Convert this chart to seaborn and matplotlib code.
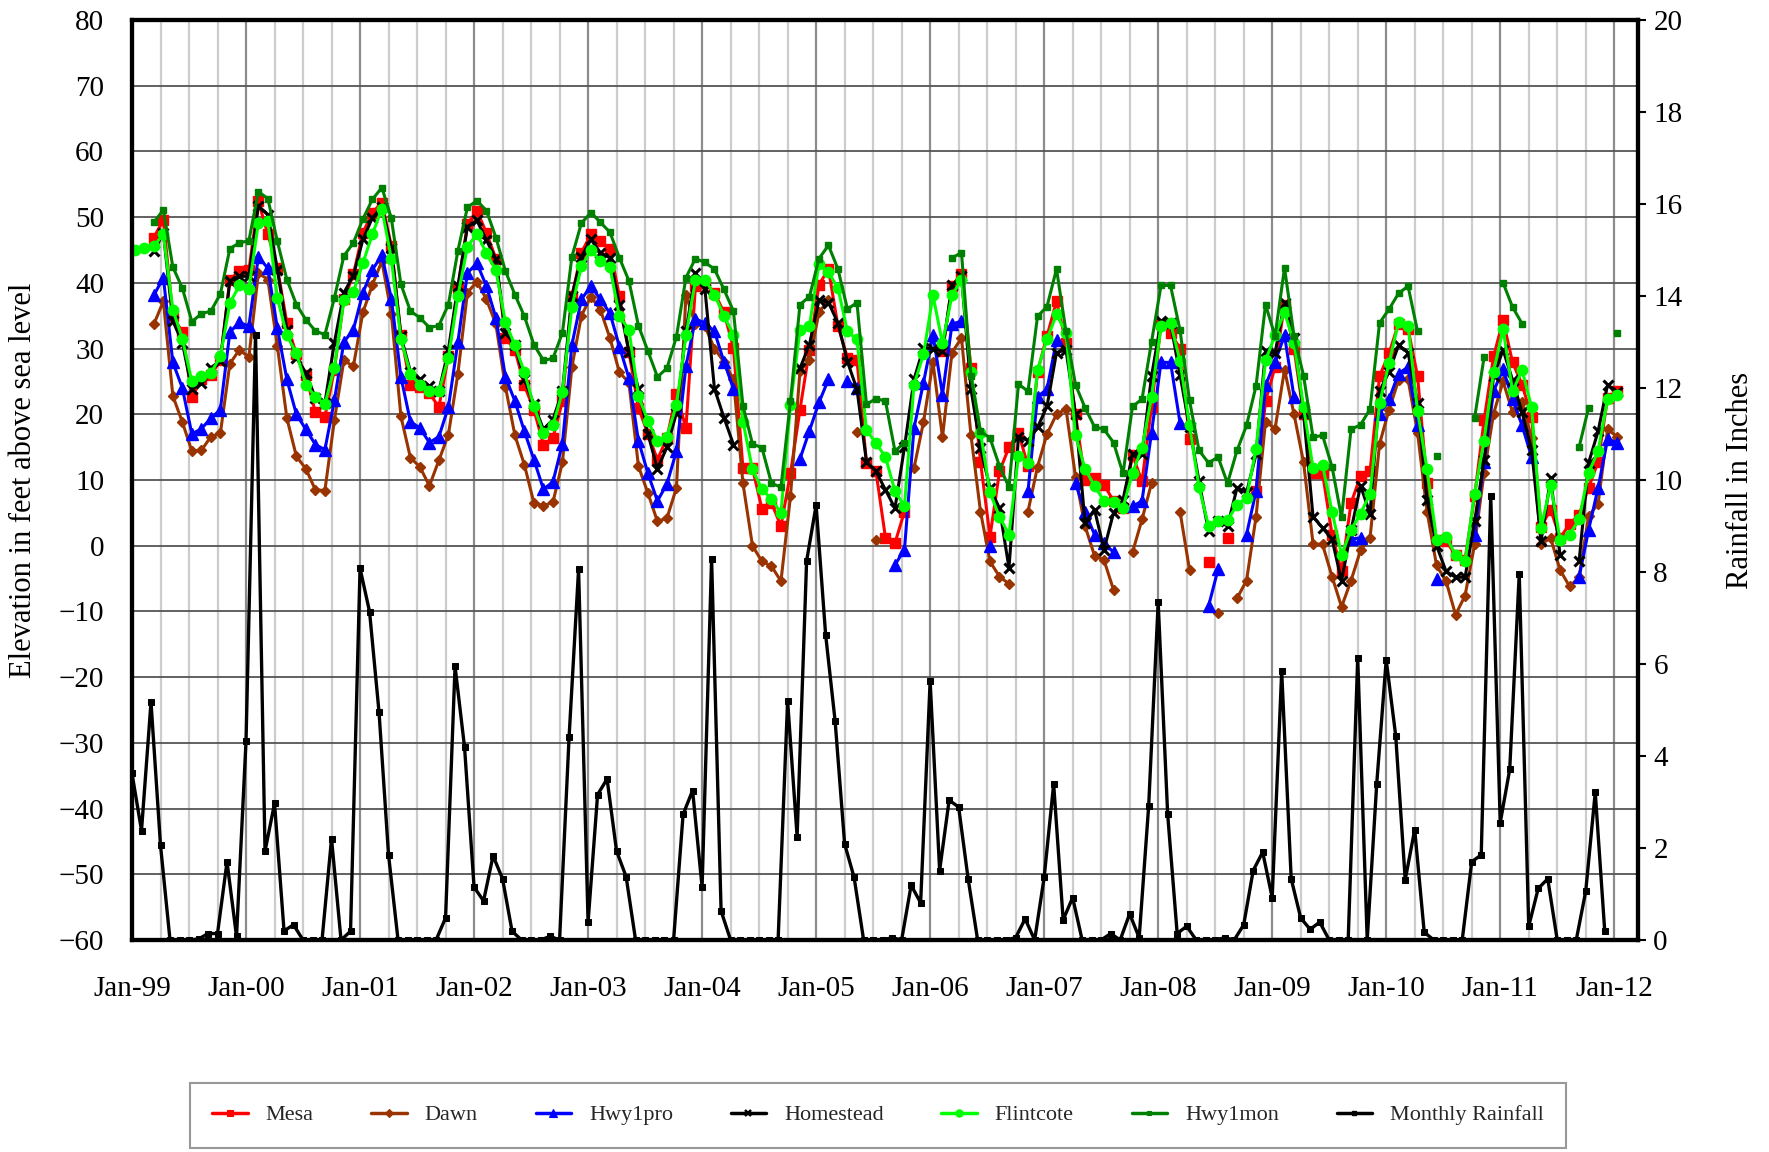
import numpy as np
import pandas as pd
import matplotlib
matplotlib.use("Agg")
import matplotlib.pyplot as plt
from matplotlib.lines import Line2D
import seaborn as sns

nan = np.nan

# month index: 0 = Jan-99 ... 156 = Jan-12
months = np.arange(157)
year_labels = ["Jan-99", "Jan-00", "Jan-01", "Jan-02", "Jan-03", "Jan-04", "Jan-05",
               "Jan-06", "Jan-07", "Jan-08", "Jan-09", "Jan-10", "Jan-11", "Jan-12"]

# well levels, feet above sea level (one row per year)
mesa = [
    nan, nan, 46.9, 49.6, 34.9, 32.5, 22.6, 25.3, 26.0, 28.2, 40.5, 41.8,
    41.9, 52.4, 47.4, 42.3, 33.9, 29.1, 26.0, 20.3, 19.6, 26.8, 37.5, 41.3,
    47.6, 50.7, 52.2, 45.6, 32.1, 24.5, 24.2, 23.2, 21.1, 28.8, 39.2, 48.9,
    51.0, 47.6, 43.7, 31.6, 29.8, 24.4, 20.7, 15.4, 16.4, 22.0, 38.0, 44.6,
    47.4, 46.3, 45.1, 38.0, 29.5, 21.0, 17.0, 13.1, 16.4, 23.1, 17.9, 39.5,
    40.0, 38.5, 35.5, 30.1, 11.8, 11.8, 5.6, 6.5, 3.0, 11.0, 20.7, 29.8,
    39.7, 42.1, 33.4, 28.6, 28.3, 12.6, 11.3, 1.2, 0.4, 5.2, nan, nan,
    nan, 29.6, 39.5, 41.4, 27.0, 12.8, 1.4, 11.3, 15.0, 17.2, 12.1, 26.5,
    31.9, 37.2, 30.9, 20.0, 10.0, 10.3, 9.3, 6.8, 5.7, 13.8, 9.8, 21.1,
    33.7, 32.4, 30.0, 16.2, nan, -2.5, nan, 1.2, nan, nan, 8.3, 22.0,
    27.2, 36.7, 30.0, 20.0, 11.0, 11.0, 1.7, -3.9, 6.5, 10.6, 11.3, 25.8,
    29.3, 33.8, 33.0, 25.8, 9.5, 0.8, 0.7, -1.4, -2.1, 7.5, 19.1, 28.8,
    34.3, 27.9, 24.5, 19.6, 2.9, 5.5, 1.2, 3.3, 4.7, 8.8, 12.8, 22.5,
    23.5]

dawn = [
    nan, nan, 33.7, 37.2, 22.8, 18.8, 14.4, 14.5, 16.6, 17.1, 27.7, 29.8,
    28.7, 41.5, 40.5, 30.4, 19.4, 13.6, 11.7, 8.5, 8.4, 19.1, 28.2, 27.3,
    35.5, 39.7, 43.3, 35.3, 19.7, 13.4, 12.0, 9.1, 13.0, 16.9, 26.2, 38.5,
    40.2, 37.5, 33.7, 24.2, 16.8, 12.3, 6.5, 6.1, 6.6, 12.7, 27.2, 35.0,
    37.9, 35.9, 31.6, 26.4, 24.8, 12.1, 8.0, 3.7, 4.2, 8.8, 38.2, 33.7,
    33.4, 30.0, 28.0, 25.3, 9.5, 0.0, -2.4, -3.1, -5.4, 7.5, 26.6, 28.2,
    35.5, 37.4, nan, nan, 17.3, nan, 0.9, nan, nan, nan, 11.8, 18.8,
    27.9, 16.5, 29.4, 31.6, 16.8, 5.2, -2.4, -4.7, -5.8, nan, 5.2, 12.0,
    17.0, 20.0, 20.8, 10.5, 3.0, -1.5, -2.2, -6.7, nan, -1.0, 4.0, 9.5,
    nan, nan, 5.2, -3.7, nan, nan, -10.3, nan, -8.0, -5.3, 4.4, 18.9,
    17.8, 26.8, 20.0, 12.7, 0.3, 0.2, -4.7, -9.3, -5.3, -0.7, 1.2, 15.5,
    20.7, 25.2, 25.3, 17.2, 5.2, -3.0, -5.4, -10.5, -7.6, 0.2, 11.1, 20.1,
    25.0, 20.3, 21.8, 16.4, 0.2, 1.2, -3.7, -6.2, -4.8, 4.5, 6.4, 17.7,
    16.6]

hwy1pro = [
    nan, nan, 38.1, 40.8, 27.9, 24.0, 17.0, 17.8, 19.4, 20.7, 32.5, 34.0,
    33.4, 44.0, 42.2, 33.1, 25.3, 20.0, 17.7, 15.4, 14.6, 22.1, 31.0, 32.9,
    38.5, 42.0, 44.2, 37.6, 25.7, 18.9, 17.9, 15.7, 16.6, 21.1, 31.0, 41.5,
    43.0, 39.5, 34.7, 25.7, 22.0, 17.4, 13.1, 8.6, 9.7, 15.5, 30.6, 37.5,
    39.5, 37.5, 35.4, 30.3, 25.5, 16.0, 11.0, 6.8, 9.4, 14.4, 27.3, 34.5,
    33.9, 32.6, 28.0, 23.9, nan, nan, nan, nan, nan, nan, 13.2, 17.5,
    21.8, 25.3, nan, 25.0, 24.0, nan, nan, nan, -2.9, -0.6, 17.9, 24.8,
    32.1, 23.0, 33.7, 34.2, nan, nan, -0.1, nan, nan, nan, 8.3, 22.7,
    23.8, 31.3, nan, 9.5, 5.2, 1.7, 0.4, -1.0, nan, 6.0, 6.8, 17.2,
    27.9, 27.9, 18.7, nan, nan, -9.2, -3.6, nan, nan, 1.7, 8.3, 24.4,
    28.0, 32.0, 22.6, nan, nan, nan, nan, nan, 1.0, 1.2, nan, 20.0,
    22.3, 26.2, 27.2, 18.4, nan, -5.1, nan, nan, nan, 1.7, 12.8, 23.5,
    26.9, 22.3, 18.3, 13.5, nan, nan, nan, nan, -4.8, 2.4, 8.8, 16.2,
    15.7]

homestead = [
    nan, nan, 44.8, 47.6, 34.2, 30.9, 23.8, 24.8, 27.1, 28.1, 40.3, 41.0,
    41.0, 51.7, 50.4, 42.0, 32.9, 28.6, 26.3, 22.5, 21.7, 30.9, 38.5, 41.1,
    46.6, 49.9, 51.5, 45.3, 31.9, 26.5, 25.3, 24.3, 23.5, 29.8, 39.5, 48.5,
    49.5, 46.5, 43.6, 32.4, 30.6, 25.3, 21.5, 17.7, 19.2, 23.5, 38.0, 44.0,
    46.6, 44.6, 43.8, 36.7, 29.5, 23.9, 17.0, 11.7, 15.0, 20.2, 32.6, 41.5,
    39.0, 23.9, 19.5, 15.4, nan, nan, nan, nan, nan, nan, 27.0, 30.6,
    37.4, 37.0, 33.9, 28.0, 23.8, 12.8, 11.3, 8.5, 5.7, 15.0, 25.3, 30.1,
    30.0, 29.6, 39.7, 41.0, 23.8, 14.9, 8.8, 5.7, -3.4, 16.6, 16.0, 18.0,
    21.2, 29.4, 29.8, 20.0, 3.5, 5.5, -0.6, 5.0, 7.0, 13.9, 13.9, 25.8,
    34.2, 33.9, 26.0, 18.0, 9.8, 2.2, 3.7, 3.0, 8.8, 8.1, 13.9, 29.6,
    29.3, 37.0, 31.6, 20.2, 4.4, 2.7, 1.0, -5.4, 2.4, 9.1, 4.9, 23.5,
    26.5, 30.5, 29.4, 21.7, 6.9, 0.0, -3.9, -4.8, -4.8, 3.7, 13.0, 25.8,
    29.8, 25.2, 20.3, 14.6, 0.7, 10.3, -1.4, nan, -2.4, 12.6, 17.4, 24.5,
    23.4]

flintcote = [
    45.0, 45.3, 45.6, 47.4, 35.9, 31.5, 25.0, 25.8, 26.3, 28.8, 36.9, 39.6,
    39.1, 49.1, 49.4, 37.7, 32.0, 29.3, 24.5, 22.7, 21.5, 27.1, 37.4, 38.6,
    43.0, 47.4, 51.3, 43.6, 31.4, 26.2, 24.4, 23.6, 23.5, 28.6, 38.0, 45.5,
    47.5, 44.5, 41.9, 34.0, 30.5, 26.4, 21.2, 17.2, 18.3, 23.4, 36.4, 42.5,
    45.0, 43.3, 42.4, 34.9, 32.9, 22.8, 19.0, 15.9, 16.6, 21.4, 32.0, 40.4,
    40.5, 38.2, 35.0, 32.1, 18.9, 11.6, 8.6, 7.1, 5.0, 21.4, 32.8, 33.4,
    42.9, 41.6, 39.2, 32.6, 31.4, 17.6, 15.6, 13.5, 8.3, 6.0, 24.5, 29.1,
    38.1, 30.8, 38.1, 40.5, 26.4, 17.2, 8.1, 4.4, 1.7, 13.7, 12.6, 26.7,
    31.4, 35.2, 32.4, 16.8, 11.7, 9.1, 6.8, 6.6, 5.8, 11.1, 14.9, 22.6,
    33.5, 33.9, 28.1, 18.3, 8.9, 3.0, 3.7, 3.9, 6.2, 7.3, 14.7, 28.2,
    32.0, 35.5, 30.9, 21.1, 11.8, 12.3, 5.2, -1.4, 2.4, 4.9, 7.9, 21.7,
    27.8, 34.0, 33.5, 20.5, 11.6, 0.9, 1.4, -1.4, -2.4, 7.9, 16.0, 26.5,
    33.0, 23.5, 26.7, 21.1, 2.7, 9.3, 0.9, 1.7, 4.0, 11.1, 14.4, 22.3,
    23.0]

hwy1mon = [
    nan, nan, 49.2, 51.1, 42.4, 39.2, 34.1, 35.3, 35.7, 38.3, 45.2, 46.1,
    46.4, 53.9, 52.8, 46.3, 40.5, 36.7, 34.4, 32.7, 32.1, 37.7, 44.1, 46.1,
    49.7, 52.7, 54.5, 49.8, 39.8, 35.7, 34.7, 33.2, 33.5, 36.7, 44.9, 51.5,
    52.5, 51.0, 46.9, 41.8, 38.2, 34.9, 30.6, 28.2, 28.5, 32.4, 44.0, 49.1,
    50.7, 49.2, 47.7, 43.8, 40.3, 33.5, 29.6, 25.7, 27.0, 31.8, 40.8, 43.7,
    43.1, 42.1, 39.0, 35.7, 21.3, 15.5, 14.9, 9.5, 8.9, 22.0, 36.7, 37.9,
    43.7, 45.7, 42.1, 36.0, 37.0, 21.5, 22.4, 22.0, 14.4, 15.7, nan, nan,
    nan, nan, 43.8, 44.6, 25.8, 17.4, 16.4, 12.1, 8.9, 24.6, 23.5, 34.9,
    36.4, 42.1, 32.6, 24.5, 21.0, 18.1, 17.7, 15.7, 11.0, 21.2, 22.3, 31.0,
    39.6, 39.6, 32.8, 22.1, 14.5, 12.6, 13.5, 9.5, 14.5, 18.3, 24.3, 36.7,
    31.9, 42.3, 31.9, 25.9, 16.5, 16.8, 12.0, 4.3, 17.7, 18.4, 20.8, 33.9,
    36.0, 38.4, 39.5, 32.6, nan, 13.6, nan, nan, nan, 19.4, 28.7, nan,
    40.0, 36.3, 33.8, nan, nan, nan, nan, nan, 15.0, 21.0, nan, nan,
    32.3]

# monthly rainfall, inches
rainfall = [
    3.62, 2.38, 5.17, 2.06, 0, 0, 0, 0.02, 0.14, 0.14, 1.70, 0.08,
    4.32, 13.16, 1.93, 2.97, 0.20, 0.33, 0, 0, 0, 2.20, 0, 0.19,
    8.08, 7.14, 4.95, 1.85, 0, 0, 0, 0, 0, 0.48, 5.95, 4.19,
    1.15, 0.85, 1.83, 1.33, 0.19, 0, 0, 0, 0.08, 0, 4.41, 8.06,
    0.39, 3.16, 3.50, 1.93, 1.38, 0, 0, 0, 0, 0, 2.73, 3.25,
    1.15, 8.29, 0.63, 0, 0, 0, 0, 0, 0, 5.20, 2.25, 8.24,
    9.45, 6.64, 4.76, 2.09, 1.36, 0, 0, 0, 0.05, 0, 1.19, 0.81,
    5.63, 1.51, 3.04, 2.89, 1.33, 0, 0, 0, 0, 0.05, 0.46, 0,
    1.36, 3.39, 0.44, 0.92, 0, 0, 0, 0.14, 0, 0.57, 0.05, 2.91,
    7.34, 2.73, 0.14, 0.30, 0, 0, 0, 0.05, 0, 0.33, 1.51, 1.91,
    0.92, 5.84, 1.33, 0.48, 0.23, 0.39, 0, 0, 0, 6.13, 0, 3.39,
    6.09, 4.44, 1.31, 2.40, 0.17, 0, 0, 0, 0, 1.70, 1.85, 9.66,
    2.55, 3.71, 7.96, 0.30, 1.12, 1.33, 0, 0, 0, 1.06, 3.21, 0.19,
    nan]

# levels are read some days into the month, rain is a monthly total
READ_OFFSET = 0.3

WELLS = [
    # name, values, color, marker, markersize
    ("Mesa", mesa, "#FF0000", "s", 7),
    ("Dawn", dawn, "#993300", "D", 5.5),
    ("Hwy1pro", hwy1pro, "#0000FF", "^", 8),
    ("Homestead", homestead, "#000000", "x", 7),
    ("Flintcote", flintcote, "#00FF00", "o", 7.5),
    ("Hwy1mon", hwy1mon, "#008000", "s", 4),
]

sns.set_theme(style="white")
plt.rcParams["font.family"] = ["Liberation Serif", "DejaVu Serif"]

W, H = 1769, 1152
fig = plt.figure(figsize=(W / 100, H / 100), dpi=100)
L, R, T, B = 132, 1638, 20, 940
ax = fig.add_axes([L / W, 1 - B / H, (R - L) / W, (B - T) / H])
ax2 = ax.twinx()

handles = []
for name, vals, color, marker, ms in WELLS:
    assert len(vals) == 157, name
    df = pd.DataFrame({"month": months + READ_OFFSET, "ft": vals})
    df["seg"] = df["ft"].isna().cumsum()  # break the line at missing readings
    df = df.dropna()
    mew = 2.2 if marker == "x" else 1
    sns.lineplot(data=df, x="month", y="ft", units="seg", estimator=None, sort=False,
                 color=color, marker=marker, markersize=ms, markeredgecolor=color,
                 markeredgewidth=mew, linewidth=2.2, legend=False, ax=ax)
    handles.append(Line2D([], [], color=color, marker=marker, markersize=ms * 0.7,
                          markeredgecolor=color, markeredgewidth=mew * 0.8, lw=2.5, label=name))

rain = pd.DataFrame({"month": months, "inches": rainfall}).dropna()
sns.lineplot(data=rain, x="month", y="inches", estimator=None, sort=False, color="black",
             marker="s", markersize=4.5, markeredgecolor="black", linewidth=2.4,
             legend=False, ax=ax2)
handles.append(Line2D([], [], color="black", marker="s", markersize=3.5, lw=2.5,
                      label="Monthly Rainfall"))

# axes
ax.set_xlim(0, 158.5)
ax.set_ylim(-60, 80)
ax.set_yticks(range(-60, 81, 10))
ax.set_xticks(range(0, 157, 12))
ax.set_xticklabels(year_labels)
ax.set_xticks([m for m in range(0, 159, 3) if m % 12], minor=True)
ax.grid(axis="y", which="major", color="#555555", lw=1.3)
ax.grid(axis="x", which="major", color="#8c8c8c", lw=1.6)
ax.grid(axis="x", which="minor", color="#cccccc", lw=1.6)
ax.set_axisbelow(True)
ax.tick_params(axis="both", which="both", length=0, labelsize=21, colors="black")
ax.tick_params(axis="x", pad=26)
ax.tick_params(axis="y", pad=20)
ax.set_xlabel("")
ax.set_ylabel("Elevation in feet above sea level", fontsize=22, color="black")
ax.yaxis.set_label_coords((38 - L) / (R - L), 0.5)

ax2.set_ylim(0, 20)
ax2.set_yticks(range(0, 21, 2))
ax2.tick_params(axis="y", direction="out", length=6, width=1.5, labelsize=21, pad=5,
                colors="black")
ax2.set_ylabel("Rainfall in Inches", fontsize=22, color="black", rotation=90)
ax2.yaxis.set_label_coords((1726 - L) / (R - L), 0.5)
ax2.grid(False)

for a in (ax, ax2):
    for sp in a.spines.values():
        sp.set_visible(True)
        sp.set_color("black")
        sp.set_linewidth(3)

leg = fig.legend(handles=handles, loc="center", bbox_to_anchor=(878 / W, 1 - 1115 / H),
                 ncol=7, frameon=True, fancybox=False, edgecolor="#7f7f7f", fontsize=16,
                 handlelength=1.6, handletextpad=0.8, columnspacing=2.6, borderpad=1.0)
leg.get_frame().set_linewidth(1.5)

fig.savefig("out.png", dpi=100)
